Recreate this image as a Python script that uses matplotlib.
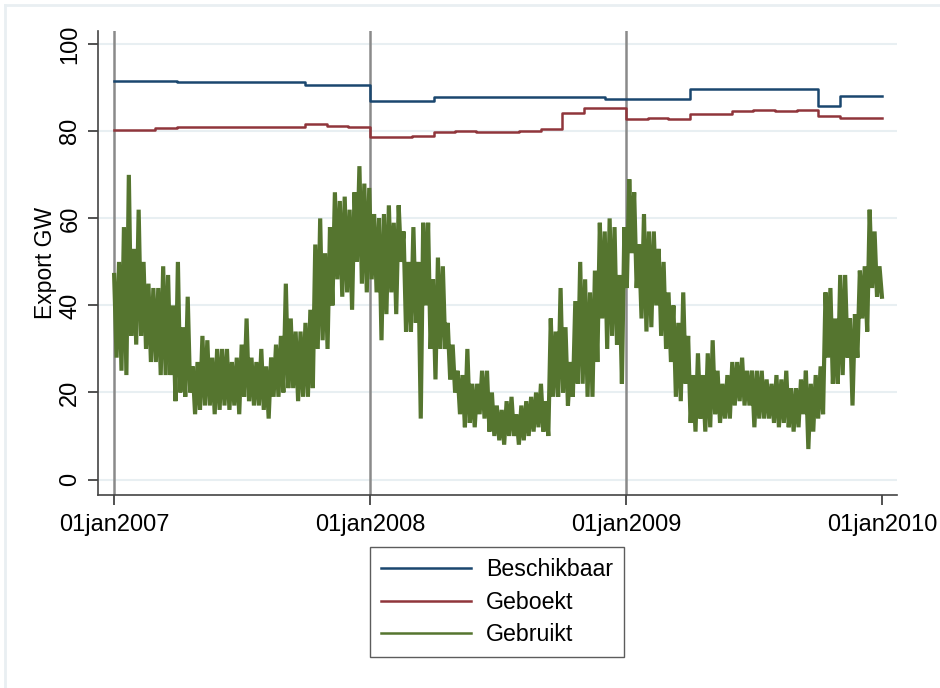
import numpy as np
import matplotlib
matplotlib.use("Agg")
import matplotlib.pyplot as plt
from matplotlib.lines import Line2D

plt.rcParams["font.family"] = ["Liberation Sans", "DejaVu Sans"]

# step series: date of change -> level (GW)
beschikbaar_dates = ["2007-01-01", "2007-04-01", "2007-10-01", "2008-01-01", "2008-04-01",
                     "2008-12-01", "2009-04-01", "2009-10-01", "2009-11-01", "2010-01-01"]
beschikbaar = [91.6, 91.4, 90.7, 87.0, 87.9, 87.5, 89.7, 85.8, 88.2, 88.2]

geboekt_dates = ["2007-01-01", "2007-03-01", "2007-04-01", "2007-10-01", "2007-11-01",
                 "2007-12-01", "2008-01-01", "2008-03-01", "2008-04-01", "2008-05-01",
                 "2008-06-01", "2008-08-01", "2008-09-01", "2008-10-01", "2008-11-01",
                 "2009-01-01", "2009-02-01", "2009-03-01", "2009-04-01", "2009-06-01",
                 "2009-07-01", "2009-08-01", "2009-09-01", "2009-10-01", "2009-11-01",
                 "2010-01-01"]
geboekt = [80.3, 80.7, 81.0, 81.6, 81.3, 81.0, 78.7, 79.0, 79.8, 80.1,
           79.8, 80.1, 80.5, 84.3, 85.3, 82.8, 83.1, 82.8, 84.1, 84.7,
           85.0, 84.7, 85.0, 83.5, 83.0, 83.0]

# gebruikt: weekly high and low, starting 01jan2007
gebruikt_hi = [47, 50, 58, 70, 53, 62, 50, 45, 44, 44,
               49, 47, 40, 50, 35, 42, 26, 27, 33, 32,
               28, 30, 30, 30, 27, 28, 31, 37, 28, 27,
               30, 26, 28, 31, 33, 45, 37, 34, 34, 36,
               39, 54, 60, 52, 58, 66, 64, 65, 62, 66,
               72, 68, 67, 61, 60, 61, 63, 59, 63, 57,
               50, 58, 50, 59, 59, 46, 51, 49, 36, 31,
               25, 24, 30, 22, 22, 25, 25, 20, 17, 16,
               18, 19, 15, 17, 18, 19, 20, 22, 18, 37,
               34, 44, 35, 27, 41, 50, 46, 43, 48, 59,
               57, 60, 58, 47, 58, 69, 66, 54, 61, 57,
               57, 53, 50, 43, 40, 36, 43, 33, 24, 29,
               24, 29, 32, 25, 22, 24, 27, 27, 28, 25,
               25, 25, 25, 23, 22, 24, 23, 25, 21, 21,
               23, 25, 22, 24, 26, 43, 44, 37, 47, 47,
               37, 38, 48, 49, 62, 57, 49]
gebruikt_lo = [28, 25, 24, 33, 31, 33, 30, 27, 27, 24,
               24, 24, 18, 20, 19, 20, 15, 16, 17, 17,
               15, 16, 17, 16, 17, 15, 19, 18, 17, 17,
               16, 14, 19, 19, 20, 21, 21, 18, 19, 19,
               21, 30, 32, 30, 40, 46, 42, 43, 39, 50,
               45, 43, 46, 43, 32, 38, 43, 38, 50, 34,
               34, 36, 14, 40, 30, 23, 30, 30, 23, 20,
               15, 12, 13, 12, 15, 14, 11, 10, 9, 8,
               10, 10, 8, 9, 10, 11, 12, 11, 10, 19,
               19, 20, 17, 19, 22, 22, 19, 19, 27, 37,
               30, 33, 31, 22, 44, 52, 44, 37, 34, 35,
               40, 33, 30, 27, 19, 18, 22, 13, 11, 14,
               11, 12, 15, 13, 14, 14, 17, 18, 17, 17,
               12, 14, 14, 14, 13, 12, 13, 12, 11, 12,
               15, 7, 11, 14, 15, 28, 22, 22, 24, 28,
               17, 28, 37, 34, 44, 42, 42]

xline_dates = ["2007-01-01", "2008-01-01", "2009-01-01"]
xtick_dates = ["2007-01-01", "2008-01-01", "2009-01-01", "2010-01-01"]
xtick_labels = ["01jan2007", "01jan2008", "01jan2009", "01jan2010"]

c_blue = "#1a476f"
c_red = "#90353b"
c_green = "#55752f"

# interleave weekly high / low, half a week apart
start = np.datetime64("2007-01-01T00")
n = len(gebruikt_hi)
g_x, g_y = [], []
for w in range(n):
    g_x.append(start + np.timedelta64(w * 168, "h"))
    g_y.append(gebruikt_hi[w])
    g_x.append(start + np.timedelta64(w * 168 + 84, "h"))
    g_y.append(gebruikt_lo[w])

fig = plt.figure(figsize=(9.4, 6.88), dpi=100)
ax = fig.add_axes([98 / 940, 1 - 495 / 688, (897 - 98) / 940, (495 - 31) / 688])

for d in xline_dates:
    ax.axvline(np.datetime64(d), color="#8a8a8a", lw=1.8, zorder=1)

ax.plot(np.array(beschikbaar_dates, dtype="datetime64[D]"), beschikbaar,
        drawstyle="steps-post", color=c_blue, lw=1.8, label="Beschikbaar", zorder=3)
ax.plot(np.array(geboekt_dates, dtype="datetime64[D]"), geboekt,
        drawstyle="steps-post", color=c_red, lw=1.8, label="Geboekt", zorder=3)
ax.plot(g_x, g_y, color=c_green, lw=3.0, solid_joinstyle="miter",
        label="Gebruikt", zorder=2)

ax.set_xlim(np.datetime64("2006-12-09"), np.datetime64("2010-01-22"))
ax.set_ylim(-3.56, 103.06)
ax.set_yticks([0, 20, 40, 60, 80, 100])
ax.set_yticklabels(["0", "20", "40", "60", "80", "100"], rotation=90, va="center")
ax.set_xticks(np.array(xtick_dates, dtype="datetime64[D]"))
ax.set_xticklabels(xtick_labels)
ax.tick_params(axis="both", labelsize=17, colors="#333333", labelcolor="black",
               length=7, width=1.2)
ax.tick_params(axis="x", pad=7)
ax.tick_params(axis="y", pad=5)
ax.set_ylabel("Export GW", fontsize=16.5, labelpad=2)

ax.grid(axis="y", color="#e8eff2", lw=1.5, zorder=0)
ax.set_axisbelow(True)
for s in ["top", "right"]:
    ax.spines[s].set_visible(False)
for s in ["left", "bottom"]:
    ax.spines[s].set_color("#444444")
    ax.spines[s].set_linewidth(1.2)

leg = fig.legend(loc="upper center", bbox_to_anchor=(497 / 940, 1 - 547 / 688),
                 fontsize=16.7, frameon=True, fancybox=False, handlelength=3.9,
                 handletextpad=0.65, labelspacing=0.42, borderpad=0.47,
                 borderaxespad=0)
leg.get_frame().set_edgecolor("#333333")
leg.get_frame().set_linewidth(1.0)
for h in leg.get_lines():
    h.set_linewidth(1.8)

# faint outer frame on top / left
fig.add_artist(Line2D([5 / 940, 1], [1 - 5 / 688, 1 - 5 / 688], color="#e9eff2", lw=2))
fig.add_artist(Line2D([5 / 940, 5 / 940], [0, 1 - 5 / 688], color="#e9eff2", lw=2))

fig.savefig("out.png", dpi=100)
